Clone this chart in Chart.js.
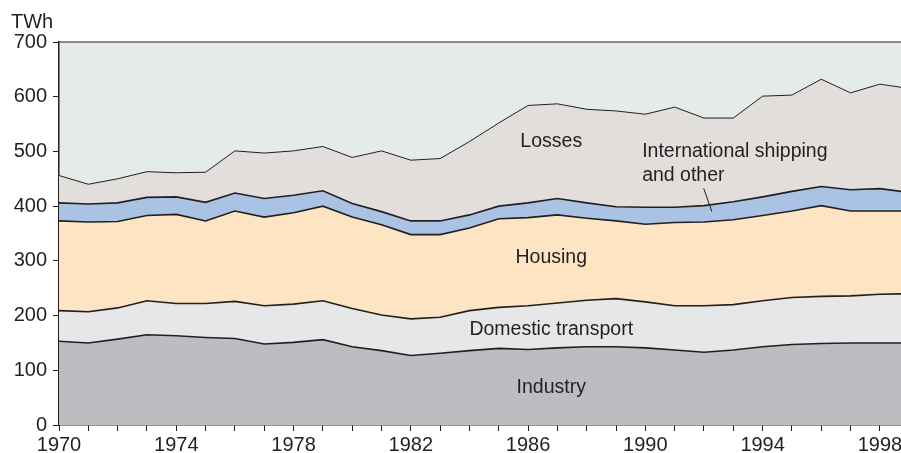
<!DOCTYPE html>
<html><head><meta charset="utf-8">
<script src="https://cdn.jsdelivr.net/npm/chart.js@4/dist/chart.umd.min.js"></script>
<style>html,body{margin:0;padding:0;background:#fff;overflow:hidden}</style>
</head><body>
<canvas id="c" width="901" height="453"></canvas>
<script>
const years = [1970,1971,1972,1973,1974,1975,1976,1977,1978,1979,1980,1981,1982,1983,1984,1985,1986,1987,1988,1989,1990,1991,1992,1993,1994,1995,1996,1997,1998,1999];
const industry = [153,150,157,165,163,160,158,148,151,156,143,136,127,131,136,140,138,141,143,143,141,137,133,137,143,147,149,150,150,150];
const domesticTransport = [56,57,57,62,59,62,68,70,70,71,70,65,67,66,73,75,80,82,85,88,84,81,85,83,84,86,86,86,89,90];
const housing = [164,164,158,156,163,151,165,162,167,173,167,165,154,151,151,162,161,161,150,142,142,152,153,155,156,158,166,155,152,151];
const shipping = [33,33,34,33,32,34,33,34,32,28,25,24,25,25,24,23,27,30,28,26,31,28,30,33,34,36,35,39,41,34];
const losses = [50,36,44,47,44,55,77,83,81,81,84,111,111,114,134,152,178,173,171,175,170,183,160,153,184,176,196,177,191,190];
const yTicks = [0,100,200,300,400,500,600,700];
const xTickYears = years.filter(y => y <= 1998);
const xLabelYears = [1970,1974,1978,1982,1986,1990,1994,1998];
const seriesNames = ['Industry','Domestic transport','Housing','International shipping and other','Losses'];
const unitLabel = 'TWh';

const FONT = '"Liberation Sans", Arial, Helvetica, sans-serif';
const INK = '#231f20';

function pts(arr){ return years.map((x,i)=>({x:x, y:arr[i]})); }

const seriesData = [industry, domesticTransport, housing, shipping, losses];
const fills = ['#bcbdc0','#e6e7e9','#fde4c2','#aac2e3','#e2dedc'];
const widths = [1.6,1.6,1.6,1.6,1];

const datasets = seriesData.map((arr,i)=>({
  label: seriesNames[i],
  data: pts(arr),
  backgroundColor: fills[i],
  borderColor: INK,
  borderWidth: widths[i],
  fill: i === 0 ? 'origin' : '-1',
  pointRadius: 0,
  tension: 0
}));

const decor = {
  id: 'decor',
  beforeDraw(chart){
    const {ctx, chartArea:a} = chart;
    ctx.save();
    ctx.fillStyle = '#e5ebea';
    ctx.fillRect(a.left, a.top, a.right - a.left, a.bottom - a.top);
    ctx.restore();
  },
  afterDatasetsDraw(chart){
    const {ctx, chartArea:a, scales:{x, y}} = chart;
    ctx.save();
    ctx.strokeStyle = INK;
    ctx.lineWidth = 1.2;
    ctx.beginPath();
    ctx.moveTo(a.left, a.top); ctx.lineTo(a.right, a.top);
    ctx.stroke();

    ctx.fillStyle = INK;
    ctx.font = '20px ' + FONT;
    ctx.textAlign = 'left';
    ctx.textBaseline = 'alphabetic';
    ctx.fillText(unitLabel, 11, 28);

    ctx.font = '19.5px ' + FONT;
    ctx.textAlign = 'center';
    const cx = x.getPixelForValue(1986.79);
    ctx.fillText('Losses', cx, y.getPixelForValue(507.6));
    ctx.fillText('Housing', cx, y.getPixelForValue(295.5));
    ctx.fillText('Domestic transport', cx, y.getPixelForValue(164.5));
    ctx.fillText('Industry', cx, y.getPixelForValue(57.9));
    ctx.textAlign = 'left';
    const lx = x.getPixelForValue(1989.89);
    ctx.fillText('International shipping', lx, y.getPixelForValue(489.3));
    ctx.fillText('and other', lx, y.getPixelForValue(446));

    ctx.lineWidth = 1;
    ctx.beginPath();
    ctx.moveTo(x.getPixelForValue(1991.99), y.getPixelForValue(432.6));
    ctx.lineTo(x.getPixelForValue(1992.27), y.getPixelForValue(389.9));
    ctx.stroke();
    ctx.restore();
  }
};

new Chart(document.getElementById('c'), {
  type: 'line',
  data: { datasets },
  plugins: [decor],
  options: {
    responsive: false,
    animation: false,
    devicePixelRatio: 1,
    layout: { padding: { top: 42, left: 0, right: 0, bottom: 0 } },
    plugins: { legend: { display: false }, tooltip: { enabled: false } },
    scales: {
      x: {
        type: 'linear', min: 1970, max: 1998.72,
        afterBuildTicks: s => { s.ticks = xTickYears.map(v => ({ value: v })); },
        ticks: {
          autoSkip: false, maxRotation: 0, minRotation: 0, padding: 2,
          color: INK, font: { family: FONT, size: 20 },
          callback: v => xLabelYears.includes(v) ? String(v) : ''
        },
        grid: { drawOnChartArea: false, drawTicks: true, tickLength: 6, color: INK, lineWidth: 1 },
        border: { display: true, color: INK, width: 1.5 },
        afterFit: s => { s.height = 28; s.paddingLeft = 0; s.paddingRight = 0; }
      },
      y: {
        stacked: true, min: 0, max: 700,
        afterBuildTicks: s => { s.ticks = yTicks.map(v => ({ value: v })); },
        ticks: { padding: 6, color: INK, font: { family: FONT, size: 20 }, callback: v => String(v) },
        grid: { drawOnChartArea: false, drawTicks: true, tickLength: 6, color: INK, lineWidth: 1 },
        border: { display: true, color: INK, width: 1.5 },
        afterFit: s => { s.width = 59; s.paddingTop = 0; s.paddingBottom = 0; }
      }
    }
  }
});
</script>
</body></html>
